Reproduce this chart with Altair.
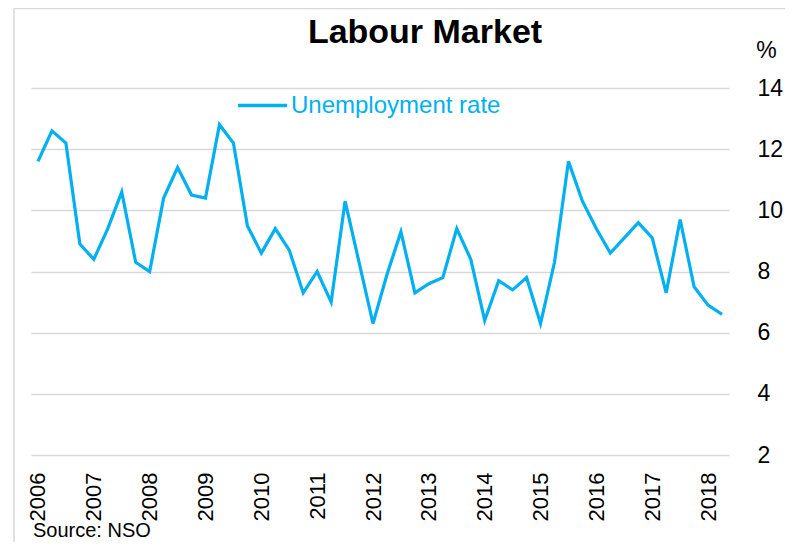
import altair as alt
import pandas as pd

years = list(range(2006, 2019))
quarters = [f"{y}Q{q}" for y in years for q in range(1, 5)][:50]
rates = [11.6, 12.6, 12.2, 8.9, 8.4, 9.4, 10.6, 8.3, 8.0, 10.4,
         11.4, 10.5, 10.4, 12.8, 12.2, 9.5, 8.6, 9.4, 8.7, 7.3,
         8.0, 7.0, 10.3, 8.3, 6.3, 7.9, 9.3, 7.3, 7.6, 7.8,
         9.4, 8.4, 6.4, 7.7, 7.4, 7.8, 6.3, 8.3, 11.6, 10.3,
         9.4, 8.6, 9.1, 9.6, 9.1, 7.3, 9.7, 7.5, 6.9, 6.6]
series_name = "Unemployment rate"
year_ticks = [f"{y}Q1" for y in years]
y_ticks = [2, 4, 6, 8, 10, 12, 14]
title_text = "Labour Market"
source_text = "Source: NSO"

df = pd.DataFrame({"quarter": quarters, "rate": rates, "series": series_name})

W, H = 698, 367
FONT = "Liberation Sans"
BLUE = "#00B0F0"
GRID = "#D9D9D9"

line = alt.Chart(df).mark_line(strokeWidth=3.2).encode(
    x=alt.X("quarter:N", sort=None,
            scale=alt.Scale(type="point", padding=0.5),
            axis=alt.Axis(values=year_ticks, labelExpr="substring(datum.value, 0, 4)",
                          labelAngle=270, labelAlign="right", labelBaseline="middle",
                          labelFontSize=22, labelPadding=17, labelFont=FONT,
                          labelColor="black", ticks=False, domain=False, grid=False,
                          title=None, labelOverlap=False)),
    y=alt.Y("rate:Q",
            scale=alt.Scale(domain=[2, 14], nice=False, zero=False),
            axis=alt.Axis(orient="right", values=y_ticks, grid=True, gridColor=GRID,
                          gridWidth=1.3, domain=False, ticks=False, labelAlign="left",
                          labelPadding=28, labelFontSize=23, labelFont=FONT,
                          labelColor="black", title="%", titleAngle=0, titleX=37,
                          titleY=-38, titleAlign="center", titleBaseline="middle",
                          titleFontSize=23, titleFontWeight="normal", titleFont=FONT,
                          titleColor="black")),
    color=alt.Color("series:N", scale=alt.Scale(range=[BLUE]),
                    legend=alt.Legend(orient="none", legendX=205, legendY=-9, title=None,
                                      symbolType="stroke", symbolSize=2400,
                                      symbolStrokeWidth=3.3, labelFontSize=24,
                                      labelColor=BLUE, labelFont=FONT, labelOffset=2,
                                      labelLimit=0, padding=0)),
)

one = alt.Data(values=[{}])

frame_left = alt.Chart(one).mark_rule(color=GRID, strokeWidth=1.5).encode(
    x=alt.value(-17), y=alt.value(-79.5), y2=alt.value(H + 100))
frame_top = alt.Chart(one).mark_rule(color=GRID, strokeWidth=1.5).encode(
    x=alt.value(-17), x2=alt.value(W + 100), y=alt.value(-79.5))

title = alt.Chart(one).mark_text(text=title_text, font=FONT, fontSize=34,
                                 fontWeight="bold", align="center",
                                 baseline="alphabetic", color="black").encode(
    x=alt.value(394), y=alt.value(-45))

source = alt.Chart(one).mark_text(text=source_text, font=FONT, fontSize=20,
                                  align="left", baseline="alphabetic",
                                  color="black").encode(
    x=alt.value(2), y=alt.value(449))

chart = alt.layer(frame_left, frame_top, line, title, source).properties(
    width=W, height=H,
    autosize=alt.AutoSizeParams(type="none"),
    padding={"left": 23, "top": 80, "right": 56, "bottom": 87},
).configure(font=FONT).configure_view(stroke=None)

chart.save("out.html", embed_options={"renderer": "svg", "actions": False})
